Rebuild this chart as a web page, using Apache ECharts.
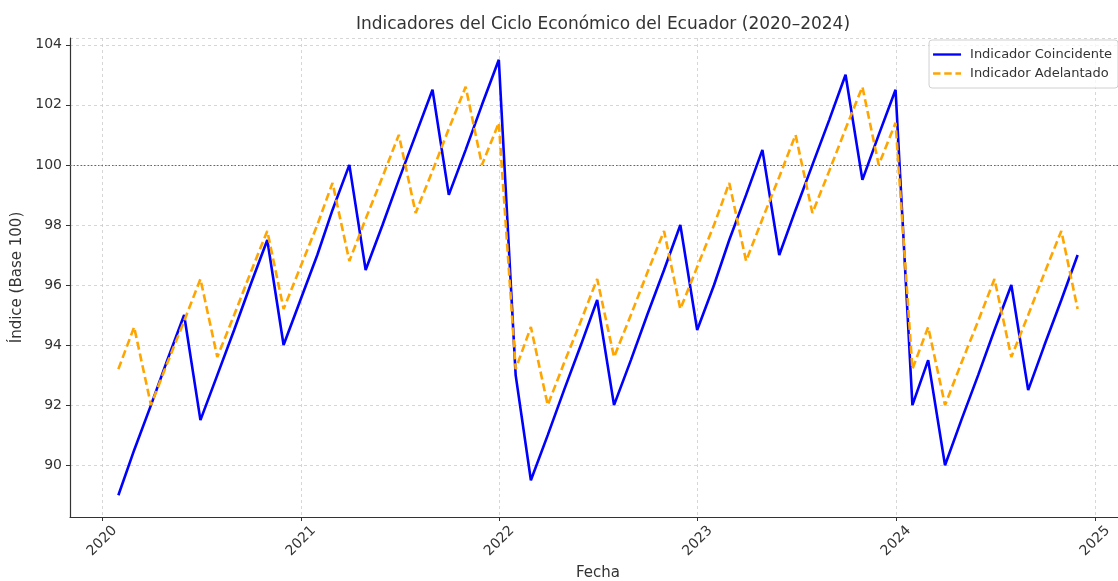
<!DOCTYPE html>
<html>
<head>
<meta charset="utf-8">
<script src="https://cdn.jsdelivr.net/npm/echarts@6/dist/echarts.min.js"></script>
<style>
	html, body { margin: 0; padding: 0; background: #fff; }
	#chart { width: 1118px; height: 581px; }
</style>
</head>
<body>
<div id="chart"></div>
<script>
// monthly data, month-end dates Jan 2020 .. Nov 2024
const startYear = 2020
const monthCount = 59

const coincidente = [
	89, 90.5, 92, 93.5, 95, 91.5, 93, 94.5, 96, 97.5, 94, 95.5,
	97, 98.5, 100, 96.5, 98, 99.5, 101, 102.5, 99, 100.5, 102, 103.5,
	93, 89.5, 91, 92.5, 94, 95.5, 92, 93.5, 95, 96.5, 98, 94.5,
	96, 97.5, 99, 100.5, 97, 98.5, 100, 101.5, 103, 99.5, 101, 102.5,
	92, 93.5, 90, 91.5, 93, 94.5, 96, 92.5, 94, 95.5, 97,
]

const adelantado = [
	93.2, 94.6, 92, 93.4, 94.8, 96.2, 93.6, 95, 96.4, 97.8, 95.2, 96.6,
	98, 99.4, 96.8, 98.2, 99.6, 101, 98.4, 99.8, 101.2, 102.6, 100, 101.4,
	93.2, 94.6, 92, 93.4, 94.8, 96.2, 93.6, 95, 96.4, 97.8, 95.2, 96.6,
	98, 99.4, 96.8, 98.2, 99.6, 101, 98.4, 99.8, 101.2, 102.6, 100, 101.4,
	93.2, 94.6, 92, 93.4, 94.8, 96.2, 93.6, 95, 96.4, 97.8, 95.2,
]

const fechas = []
for (let i = 0; i < monthCount; i++) {
	fechas.push(new Date(startYear, i + 1, 0).getTime())
}

const font = 'DejaVu Sans'
const chartDom = document.getElementById('chart')
const myChart = echarts.init(chartDom)

// legend icons drawn as line swatches (solid / dashed)
const iconSolid = 'path://M0,0h30v2.5h-30z'
const iconDashed = 'path://M0,0h8v2.5h-8z M12,0h8v2.5h-8z M24,0h6v2.5h-6z'

const option = {
	animation: false,
	textStyle: { fontFamily: font },
	title: {
		text: 'Indicadores del Ciclo Económico del Ecuador (2020–2024)',
		left: 598,
		top: 11,
		textAlign: 'center',
		textStyle: { fontSize: 17, fontWeight: 'normal', color: '#333', fontFamily: font },
	},
	legend: {
		orient: 'vertical',
		right: 0,
		top: 40,
		itemWidth: 28,
		itemHeight: 2.5,
		itemGap: 6,
		padding: [8, 6, 8, 4],
		borderColor: '#d0d0d0',
		borderWidth: 1,
		borderRadius: 3,
		backgroundColor: 'rgba(255,255,255,0.8)',
		textStyle: { fontSize: 13, color: '#333', fontFamily: font, padding: [0, 0, 0, 4] },
		data: [
			{ name: 'Indicador Coincidente', icon: iconSolid },
			{ name: 'Indicador Adelantado', icon: iconDashed },
		],
	},
	grid: { left: 70, right: -8, top: 38, bottom: 64, outerBoundsMode: 'none' },
	xAxis: {
		type: 'time',
		min: new Date(2019, 10, 3).getTime(),
		max: new Date(2025, 1, 27).getTime(),
		splitNumber: 5,
		name: 'Fecha',
		nameLocation: 'middle',
		nameGap: 49,
		nameTextStyle: { fontSize: 15, color: '#333', fontFamily: font },
		axisLine: { lineStyle: { color: '#333', width: 1.2 } },
		axisTick: { show: true, length: 4, lineStyle: { color: '#333' } },
		axisLabel: {
			rotate: 45,
			align: 'center',
			verticalAlign: 'middle',
			margin: 24,
			fontSize: 14,
			color: '#333',
			fontFamily: font,
			formatter: '{yyyy}',
		},
		splitLine: { show: true, lineStyle: { color: '#cccccc', type: [3, 3], width: 0.8 } },
	},
	yAxis: {
		type: 'value',
		min: 88.275,
		max: 104.225,
		splitNumber: 8,
		name: 'Índice (Base 100)',
		nameLocation: 'middle',
		nameGap: 40,
		nameTextStyle: { fontSize: 15, color: '#333', fontFamily: font },
		axisLine: { show: true, lineStyle: { color: '#333', width: 1.2 } },
		axisTick: { show: true, length: 4, lineStyle: { color: '#333' } },
		axisLabel: {
			fontSize: 14,
			color: '#333',
			fontFamily: font,
			margin: 8,
			showMinLabel: false,
			showMaxLabel: false,
			formatter: v => (Math.abs(v % 2) < 1e-6 ? String(v) : ''),
		},
		splitLine: { show: true, lineStyle: { color: '#cccccc', type: [3, 3], width: 0.8 } },
	},
	series: [
		{
			name: 'Indicador Coincidente',
			type: 'line',
			data: fechas.map((d, i) => [d, coincidente[i]]),
			showSymbol: false,
			symbol: 'none',
			lineStyle: { color: '#0000ff', width: 2.6 },
			itemStyle: { color: '#0000ff' },
			z: 3,
			markLine: {
				silent: true,
				symbol: 'none',
				label: { show: false },
				lineStyle: { color: '#666', type: [1.5, 2], width: 1.2 },
				data: [{ yAxis: 100 }],
				z: 1,
			},
		},
		{
			name: 'Indicador Adelantado',
			type: 'line',
			data: fechas.map((d, i) => [d, adelantado[i]]),
			showSymbol: false,
			symbol: 'none',
			lineStyle: { color: '#ffa500', width: 2.6, type: [8, 4] },
			itemStyle: { color: '#ffa500' },
			z: 4,
		},
	],
}

myChart.setOption(option)
</script>
</body>
</html>
